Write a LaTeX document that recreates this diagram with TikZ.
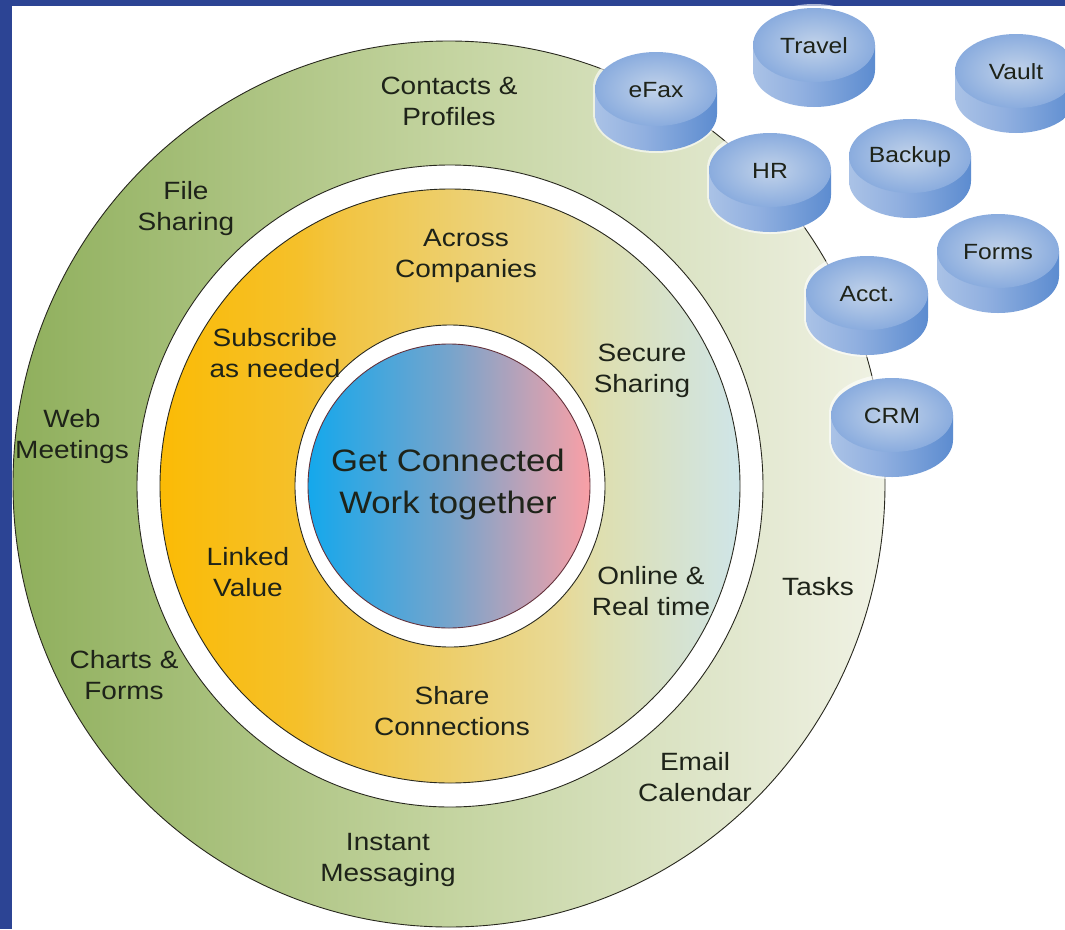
\documentclass[tikz,border=0pt]{standalone}
\usepackage{fontspec}
\setmainfont{Liberation Sans}[FakeStretch=1.12]
\definecolor{frameblue}{RGB}{44,68,148}
\definecolor{txt}{RGB}{30,35,25}
\definecolor{lineC}{RGB}{40,40,30}
\definecolor{g0}{RGB}{143,175,92}
\definecolor{g1}{RGB}{196,212,160}
\definecolor{g2}{RGB}{228,233,210}
\definecolor{g3}{RGB}{240,242,228}
\definecolor{y0}{RGB}{251,187,5}
\definecolor{y1}{RGB}{245,192,42}
\definecolor{y2}{RGB}{242,196,65}
\definecolor{y3}{RGB}{232,217,150}
\definecolor{y4}{RGB}{222,223,176}
\definecolor{y5}{RGB}{207,229,232}
\definecolor{c0}{RGB}{20,168,236}
\definecolor{c1}{RGB}{118,164,204}
\definecolor{c2}{RGB}{250,160,166}
\definecolor{cenline}{RGB}{100,50,60}
\definecolor{s0}{RGB}{170,194,230}
\definecolor{s1}{RGB}{145,176,224}
\definecolor{s2}{RGB}{92,140,208}
\definecolor{t0}{RGB}{194,211,234}
\definecolor{t1}{RGB}{138,172,222}
\pgfdeclarehorizontalshading{greenring}{100bp}{color(0bp)=(g0); color(25bp)=(g0); color(50bp)=(g1); color(68bp)=(g2); color(75bp)=(g3); color(100bp)=(g3)}
\pgfdeclarehorizontalshading{yellowdisk}{100bp}{color(0bp)=(y0); color(25bp)=(y0); color(36.8bp)=(y1); color(40.5bp)=(y2); color(59.5bp)=(y3); color(63bp)=(y4); color(75bp)=(y5); color(100bp)=(y5)}
\pgfdeclarehorizontalshading{centerdisk}{100bp}{color(0bp)=(c0); color(25bp)=(c0); color(50bp)=(c1); color(75bp)=(c2); color(100bp)=(c2)}
\pgfdeclarehorizontalshading{cylsideshade}{100bp}{color(0bp)=(s0); color(25bp)=(s0); color(45bp)=(s1); color(75bp)=(s2); color(100bp)=(s2)}
\tikzset{
  ringlbl/.style={text=txt, align=center, font=\fontsize{25}{31}\selectfont, inner sep=0pt},
  centerlbl/.style={text=txt, align=center, font=\fontsize{31}{42}\selectfont, inner sep=0pt},
  cyllbl/.style={text=txt, align=center, font=\fontsize{22}{26}\selectfont, inner sep=0pt},
  outline/.style={draw=lineC, line width=0.9pt},
  cyl/.pic={
    \fill[white, opacity=0.6] (-63,-2) -- (-63,25) arc[start angle=180,end angle=0,x radius=63,y radius=39] -- (63,-2) arc[start angle=0,end angle=-180,x radius=63,y radius=39] -- cycle;
    \shade[shading=cylsideshade] (-61,0) -- (-61,25) arc[start angle=180,end angle=0,x radius=61,y radius=37] -- (61,0) -- cycle;
    \shade[inner color=t0, outer color=t1] (0,0) ellipse[x radius=61,y radius=37];
    \node[cyllbl] (-t) at (0,1) {#1};
  }
}
\begin{document}
\begin{tikzpicture}[x=1pt,y=-1pt]
\useasboundingbox (0,0) rectangle (1065,929);
\fill[frameblue] (0,0) rectangle (1065,929);
\fill[white] (12,6) rectangle (1065,929);
% outer green ring
\shade[shading=greenring, outline] (449,484) ellipse[x radius=436,y radius=443];
\fill[white] (450,486) ellipse[x radius=313,y radius=321];
\draw[outline] (450,486) ellipse[x radius=313,y radius=321];
% yellow disk
\shade[shading=yellowdisk] (450,486) ellipse[x radius=290,y radius=297];
\draw[outline] (450,486) ellipse[x radius=290,y radius=297];
% inner white ring
\fill[white] (450,486) ellipse[x radius=155,y radius=161];
\draw[outline] (450,486) ellipse[x radius=155,y radius=161];
% center disk
\shade[shading=centerdisk] (449,486) ellipse[x radius=141,y radius=142];
\draw[draw=cenline, line width=0.9pt] (449,486) ellipse[x radius=141,y radius=142];
% cylinders
\pic (travel) at (814,45) {cyl=Travel};
\pic (vault) at (1016,71) {cyl=Vault};
\pic (efax) at (656,89) {cyl=eFax};
\pic (backup) at (910,156) {cyl=Backup};
\pic (hr) at (770,170) {cyl=HR};
\pic (forms) at (998,251) {cyl=Forms};
\pic (acct) at (867,293) {cyl=Acct.};
\pic (crm) at (892,415) {cyl=CRM};
% outer ring labels
\node[ringlbl] (contacts) at (449,101) {Contacts \&\\Profiles};
\node[ringlbl] (file) at (186,209) {File\\Sharing};
\node[ringlbl] (web) at (72,437) {Web\\Meetings};
\node[ringlbl] (charts) at (124,675) {Charts \&\\Forms};
\node[ringlbl] (instant) at (388,860) {Instant\\Messaging};
\node[ringlbl] (email) at (695,777) {Email\\Calendar};
\node[ringlbl] (tasks) at (818,587) {Tasks};
% middle ring labels
\node[ringlbl] (across) at (466,256) {Across\\Companies};
\node[ringlbl] (subscribe) at (275,353) {Subscribe\\as needed};
\node[ringlbl] (secure) at (642,371) {Secure\\Sharing};
\node[ringlbl] (linked) at (248,572) {Linked\\Value};
\node[ringlbl] (online) at (651,591) {Online \&\\Real time};
\node[ringlbl] (share) at (452,711) {Share\\Connections};
% center
\node[centerlbl] (center) at (448,484) {Get Connected\\Work together};
\end{tikzpicture}
\end{document}
